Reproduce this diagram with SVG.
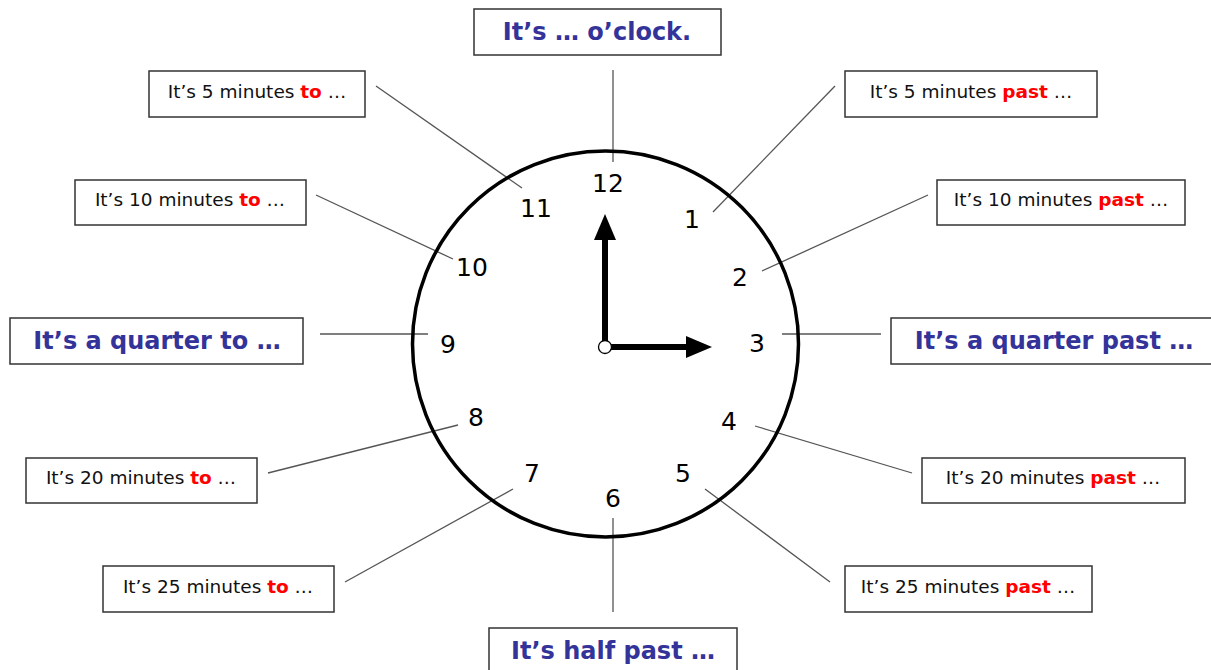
<svg xmlns="http://www.w3.org/2000/svg" width="1211" height="670" viewBox="0 0 1211 670">
<style>
.box{fill:#fff;stroke:#333;stroke-width:1.5}
.t{font-family:"DejaVu Sans",Verdana,sans-serif;font-size:18.5px;fill:#111;text-anchor:middle}
.r{fill:#f00;font-weight:bold}
.b{font-family:"DejaVu Sans",Verdana,sans-serif;font-size:24px;font-weight:bold;fill:#333399;text-anchor:middle}
.n{font-family:"DejaVu Sans",Verdana,sans-serif;font-size:25px;fill:#000;text-anchor:middle}
.c{stroke:#555;stroke-width:1.3;fill:none}
</style>
<rect width="1211" height="670" fill="#fff"/>
<g id="connectors">
<line class="c" x1="613" y1="70" x2="613" y2="162"/>
<line class="c" x1="835" y1="86" x2="713" y2="212"/>
<line class="c" x1="928" y1="195" x2="762" y2="271"/>
<line class="c" x1="782" y1="334" x2="881" y2="334"/>
<line class="c" x1="755" y1="426" x2="912" y2="473"/>
<line class="c" x1="705" y1="489" x2="830" y2="582"/>
<line class="c" x1="613" y1="518" x2="613" y2="612"/>
<line class="c" x1="513" y1="489" x2="345" y2="582"/>
<line class="c" x1="458" y1="425" x2="268" y2="473"/>
<line class="c" x1="320" y1="334" x2="428" y2="334"/>
<line class="c" x1="316" y1="195" x2="453" y2="259"/>
<line class="c" x1="376" y1="86" x2="522" y2="188"/>
</g>
<g id="clock">
<circle cx="605.5" cy="344" r="193" fill="none" stroke="#000" stroke-width="3.5"/>
<text class="n" x="608" y="192">12</text>
<text class="n" x="692" y="228">1</text>
<text class="n" x="740" y="286">2</text>
<text class="n" x="757" y="352">3</text>
<text class="n" x="729" y="430">4</text>
<text class="n" x="683" y="482">5</text>
<text class="n" x="613" y="507">6</text>
<text class="n" x="532" y="482">7</text>
<text class="n" x="476" y="426">8</text>
<text class="n" x="448" y="353">9</text>
<text class="n" x="472" y="276">10</text>
<text class="n" x="536" y="217">11</text>
<line x1="605" y1="347" x2="605" y2="236" stroke="#000" stroke-width="6"/>
<polygon points="605,214 594,240 616,240" fill="#000"/>
<line x1="605" y1="347" x2="690" y2="347" stroke="#000" stroke-width="6"/>
<polygon points="712,347 686,336 686,358" fill="#000"/>
<circle cx="605" cy="347" r="6.5" fill="#fff" stroke="#000" stroke-width="1.3"/>
</g>
<g id="n12"><rect class="box" x="474" y="9" width="247" height="46"/><text class="b" x="597" y="40">It’s … o’clock.</text></g>
<g id="n1"><rect class="box" x="845" y="71" width="252" height="46"/><text class="t" x="971" y="98">It’s 5 minutes <tspan class="r">past</tspan> …</text></g>
<g id="n2"><rect class="box" x="937" y="180" width="248" height="45"/><text class="t" x="1061" y="206">It’s 10 minutes <tspan class="r">past</tspan> …</text></g>
<g id="n3"><rect class="box" x="891" y="318" width="330" height="46"/><text class="b" x="1054" y="349">It’s a quarter past …</text></g>
<g id="n4"><rect class="box" x="922" y="458" width="263" height="45"/><text class="t" x="1053" y="484">It’s 20 minutes <tspan class="r">past</tspan> …</text></g>
<g id="n5"><rect class="box" x="845" y="566" width="247" height="46"/><text class="t" x="968" y="593">It’s 25 minutes <tspan class="r">past</tspan> …</text></g>
<g id="n6"><rect class="box" x="489" y="628" width="248" height="50"/><text class="b" x="613" y="659">It’s half past …</text></g>
<g id="n7"><rect class="box" x="103" y="566" width="231" height="46"/><text class="t" x="218" y="593">It’s 25 minutes <tspan class="r">to</tspan> …</text></g>
<g id="n8"><rect class="box" x="26" y="458" width="231" height="45"/><text class="t" x="141" y="484">It’s 20 minutes <tspan class="r">to</tspan> …</text></g>
<g id="n9"><rect class="box" x="10" y="318" width="293" height="46"/><text class="b" x="157" y="349">It’s a quarter to …</text></g>
<g id="n10"><rect class="box" x="75" y="180" width="231" height="45"/><text class="t" x="190" y="206">It’s 10 minutes <tspan class="r">to</tspan> …</text></g>
<g id="n11"><rect class="box" x="149" y="71" width="216" height="46"/><text class="t" x="257" y="98">It’s 5 minutes <tspan class="r">to</tspan> …</text></g>
</svg>
